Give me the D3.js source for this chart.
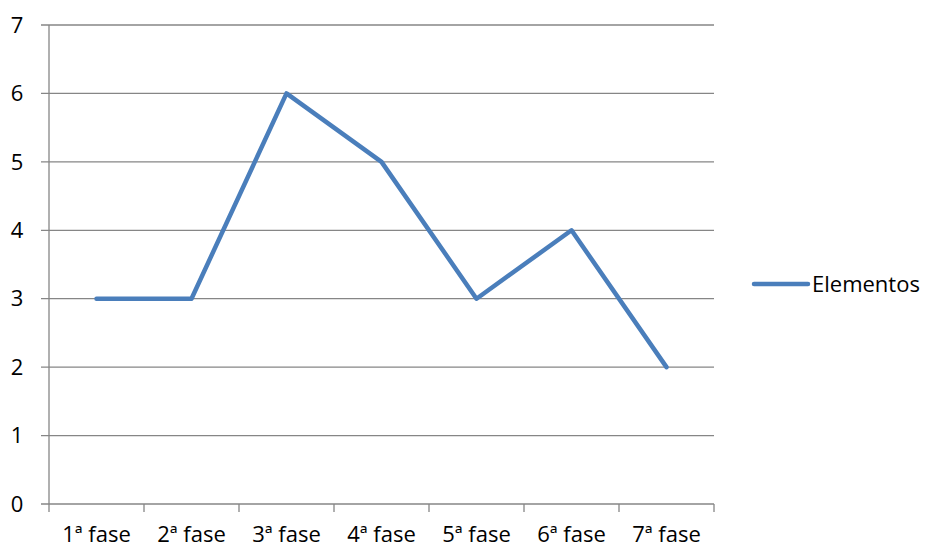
<!DOCTYPE html>
<html>
<head>
    <meta charset="utf-8">
    <script src="https://d3js.org/d3.v7.min.js"></script>
    <style>
        body { margin: 0; background: #fff; }
        text { font-family: "Open Sans", sans-serif; fill: #000; }
    </style>
</head>
<body>
<div id="chart"></div>
<script>
    // Dados
    const categories = ["1ª fase", "2ª fase", "3ª fase", "4ª fase", "5ª fase", "6ª fase", "7ª fase"];
    const elementos = [3, 3, 6, 5, 3, 4, 2];
    const yTicks = [0, 1, 2, 3, 4, 5, 6, 7];
    const seriesName = "Elementos";

    const W = 928, H = 549;
    const margin = {top: 25, right: 214, bottom: 45, left: 49},
        width = W - margin.left - margin.right,
        height = H - margin.top - margin.bottom;

    const x = d3.scaleBand().domain(categories).range([0, width]),
        y = d3.scaleLinear().domain([0, 7]).range([height, 0]);

    const svg = d3.select("#chart").append("svg")
        .attr("width", W).attr("height", H)
      .append("g")
        .attr("transform", "translate(" + margin.left + "," + margin.top + ")");

    const gridColor = "#868686";

    // Linhas de grade
    svg.selectAll(".grid")
        .data(yTicks)
      .enter().append("line")
        .attr("x1", -8).attr("x2", width)
        .attr("y1", d => y(d)).attr("y2", d => y(d))
        .attr("stroke", gridColor).attr("stroke-width", 1.3);

    // Eixo Y
    svg.append("line")
        .attr("x1", 0).attr("x2", 0).attr("y1", 0).attr("y2", height)
        .attr("stroke", gridColor).attr("stroke-width", 1.3);

    svg.selectAll(".ylab")
        .data(yTicks)
      .enter().append("text")
        .attr("x", -32).attr("y", d => y(d))
        .attr("dy", "0.35em")
        .attr("text-anchor", "middle")
        .style("font-size", "22px")
        .text(d => d);

    // Eixo X
    const bounds = categories.map(c => x(c)).concat([width]);
    svg.selectAll(".xtick")
        .data(bounds)
      .enter().append("line")
        .attr("x1", d => d).attr("x2", d => d)
        .attr("y1", height).attr("y2", height + 8)
        .attr("stroke", gridColor).attr("stroke-width", 1.3);

    svg.selectAll(".xlab")
        .data(categories)
      .enter().append("text")
        .attr("x", d => x(d) + x.bandwidth() / 2)
        .attr("y", height + 38)
        .attr("text-anchor", "middle")
        .style("font-size", "22px")
        .text(d => d);

    // Série
    const line = d3.line()
        .x((d, i) => x(categories[i]) + x.bandwidth() / 2)
        .y(d => y(d));

    svg.append("path")
        .datum(elementos)
        .attr("d", line)
        .attr("fill", "none")
        .attr("stroke", "#4a7ebb")
        .attr("stroke-width", 4.5)
        .attr("stroke-linejoin", "round")
        .attr("stroke-linecap", "round");

    // Legenda
    const lg = svg.append("g").attr("transform", "translate(" + (754 - margin.left) + "," + (284 - margin.top) + ")");
    lg.append("line")
        .attr("x1", 0).attr("x2", 54).attr("y1", 0).attr("y2", 0)
        .attr("stroke", "#4a7ebb").attr("stroke-width", 4.5)
        .attr("stroke-linecap", "round");
    lg.append("text")
        .attr("x", 58).attr("y", 0).attr("dy", "0.35em")
        .style("font-size", "22px")
        .text(seriesName);
</script>
</body>
</html>
